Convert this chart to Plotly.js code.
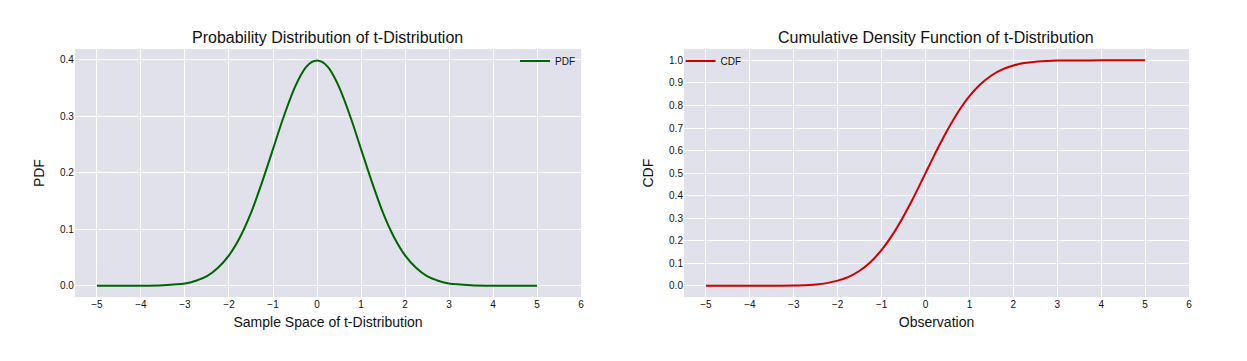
<!DOCTYPE html>
<html>
<head>
<meta charset="utf-8">
<script src="https://cdn.plot.ly/plotly-3.0.1.min.js"></script>
<style>html,body{margin:0;padding:0;background:#fff;}#chart{width:1247px;height:361px;}</style>
</head>
<body>
<div id="chart"></div>
<script>
// Values
const xPoints = [-5, -4.5, -4, -3.5, -3, -2.75, -2.5, -2.25, -2, -1.75, -1.5, -1.25, -1, -0.75, -0.5, -0.375, -0.25, -0.125, 0,
                 0.125, 0.25, 0.375, 0.5, 0.75, 1, 1.25, 1.5, 1.75, 2, 2.25, 2.5, 2.75, 3, 3.5, 4, 4.5, 5];
const pdfValues = [0.000, 0.000, 0.0001, 0.001, 0.004, 0.009, 0.017, 0.032, 0.054, 0.086, 0.129, 0.183, 0.242, 0.301, 0.352, 0.372, 0.387, 0.396, 0.399,
                   0.396, 0.387, 0.372, 0.352, 0.301, 0.242, 0.183, 0.129, 0.086, 0.054, 0.032, 0.017, 0.009, 0.004, 0.001, 0.0001, 0.000, 0.000];
const cdfValues = [0.000, 0.000, 0.000, 0.0002, 0.001, 0.003, 0.006, 0.012, 0.023, 0.040, 0.067, 0.106, 0.159, 0.227, 0.309, 0.354, 0.401, 0.450, 0.500,
                   0.550, 0.599, 0.646, 0.691, 0.773, 0.841, 0.894, 0.933, 0.960, 0.977, 0.988, 0.994, 0.997, 0.999, 0.9998, 1.000, 1.000, 1.000];
const xTickVals = [-5, -4, -3, -2, -1, 0, 1, 2, 3, 4, 5, 6];
const xTickText = ["\u22125", "\u22124", "\u22123", "\u22122", "\u22121", "0", "1", "2", "3", "4", "5", "6"];
const pdfTicks = [0.0, 0.1, 0.2, 0.3, 0.4];
const cdfTicks = [0.0, 0.1, 0.2, 0.3, 0.4, 0.5, 0.6, 0.7, 0.8, 0.9, 1.0];

const FONT = "Liberation Sans, Arial, sans-serif";
const BG = "#E1E1EB";

const traces = [
  {x: xPoints, y: pdfValues, type: "scatter", mode: "lines", name: "PDF", showlegend: true,
   line: {color: "#006400", width: 2, shape: "spline", smoothing: 0.8}, xaxis: "x", yaxis: "y", legend: "legend"},
  {x: xPoints, y: cdfValues, type: "scatter", mode: "lines", name: "CDF", showlegend: true,
   line: {color: "#CC0000", width: 2, shape: "spline", smoothing: 0.8}, xaxis: "x2", yaxis: "y2", legend: "legend2"}
];

function xax(domain, anchor, title) {
  return {domain: domain, anchor: anchor, range: [-5.5, 6], tickvals: xTickVals, ticktext: xTickText,
    showgrid: true, gridcolor: "#FFFFFF", gridwidth: 1, zeroline: false, showline: false, ticks: "",
    tickfont: {family: FONT, size: 10, color: "#111"},
    title: {text: title, font: {family: FONT, size: 14, color: "#111"}, standoff: 8}};
}
function yax(domain, anchor, title, ticks, range) {
  return {domain: domain, anchor: anchor, range: range, tickvals: ticks, tickformat: ".1f",
    showgrid: true, gridcolor: "#FFFFFF", gridwidth: 1, zeroline: false, showline: false, ticks: "",
    tickfont: {family: FONT, size: 10, color: "#111"},
    title: {text: title, font: {family: FONT, size: 14, color: "#111"}, standoff: 12}};
}

const layout = {
  width: 1247, height: 361,
  margin: {l: 0, r: 0, t: 0, b: 0},
  showlegend: true,
  paper_bgcolor: "#FFFFFF",
  plot_bgcolor: BG,
  font: {family: FONT, color: "#111"},
  xaxis: xax([0.0601, 0.466], "y", "Sample Space of t-Distribution"),
  yaxis: yax([0.177, 0.864], "x", "PDF", pdfTicks, [-0.02, 0.419]),
  xaxis2: xax([0.5485, 0.9535], "y2", "Observation"),
  yaxis2: yax([0.177, 0.864], "x2", "CDF", cdfTicks, [-0.05, 1.05]),
  legend: {x: 0.413, y: 0.831, xanchor: "left", yanchor: "middle", bgcolor: "rgba(0,0,0,0)",
           font: {family: FONT, size: 10, color: "#111"}},
  legend2: {x: 0.5458, y: 0.831, xanchor: "left", yanchor: "middle", bgcolor: "rgba(0,0,0,0)",
           font: {family: FONT, size: 10, color: "#111"}},
  annotations: [
    {text: "Probability Distribution of t-Distribution", xref: "paper", yref: "paper", x: 0.263, y: 0.897,
     xanchor: "center", yanchor: "middle", showarrow: false, font: {family: FONT, size: 16, color: "#111"}},
    {text: "Cumulative Density Function of t-Distribution", xref: "paper", yref: "paper", x: 0.751, y: 0.897,
     xanchor: "center", yanchor: "middle", showarrow: false, font: {family: FONT, size: 16, color: "#111"}}
  ]
};

Plotly.newPlot("chart", traces, layout, {displayModeBar: false, staticPlot: true});
</script>
</body>
</html>
